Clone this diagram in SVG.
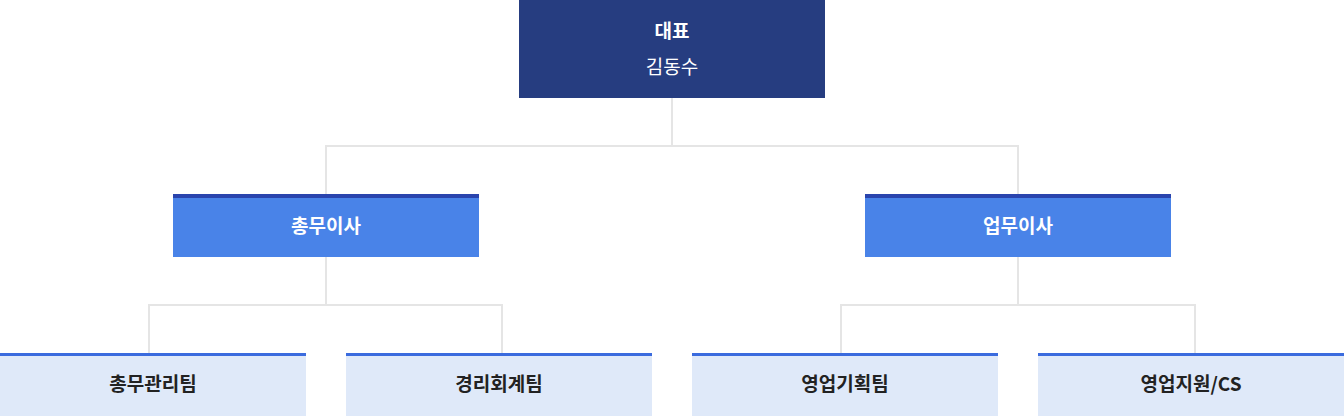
<svg xmlns="http://www.w3.org/2000/svg" width="1344" height="416" viewBox="0 0 1344 416">
<style>
text{font-family:"Noto Sans CJK KR","Noto Sans",sans-serif;text-anchor:middle}
.c{fill:none;stroke:#e5e5e5;stroke-width:2}
.m{fill:#4983e8}.mt{fill:#2a44ad}
.b{fill:#dfe9f9}.bt{fill:#3a6bde}
.w{fill:#fff;font-size:19px;font-weight:700}
.d{fill:#222;font-size:19px;font-weight:700}
</style>
<rect width="1344" height="416" fill="#fff"/>
<g id="connectors" class="c">
<path d="M672 98V146M326 194V146H1018V194"/>
<path d="M326 257V305M149 353V305H502V353"/>
<path d="M1018 257V305M841 353V305H1195V353"/>
</g>
<g id="ceo"><rect x="519" y="0" width="306" height="98" fill="#263d80"/>
<text x="672" y="38" class="w">대표</text><text x="672" y="74" fill="#fff" font-size="19">김동수</text></g>
<g id="gm"><rect class="m" x="173" y="194" width="306" height="63"/><rect class="mt" x="173" y="194" width="306" height="4"/><text x="326" y="233" class="w">총무이사</text></g>
<g id="sales"><rect class="m" x="865" y="194" width="306" height="63"/><rect class="mt" x="865" y="194" width="306" height="4"/><text x="1018" y="233" class="w">업무이사</text></g>
<g id="t1"><rect class="b" x="0" y="353" width="306" height="63"/><rect class="bt" x="0" y="353" width="306" height="3"/><text x="153" y="391" class="d">총무관리팀</text></g>
<g id="t2"><rect class="b" x="346" y="353" width="306" height="63"/><rect class="bt" x="346" y="353" width="306" height="3"/><text x="499" y="391" class="d">경리회계팀</text></g>
<g id="t3"><rect class="b" x="692" y="353" width="306" height="63"/><rect class="bt" x="692" y="353" width="306" height="3"/><text x="845" y="391" class="d">영업기획팀</text></g>
<g id="t4"><rect class="b" x="1038" y="353" width="306" height="63"/><rect class="bt" x="1038" y="353" width="306" height="3"/><text x="1191" y="391" class="d">영업지원/CS</text></g>
</svg>
